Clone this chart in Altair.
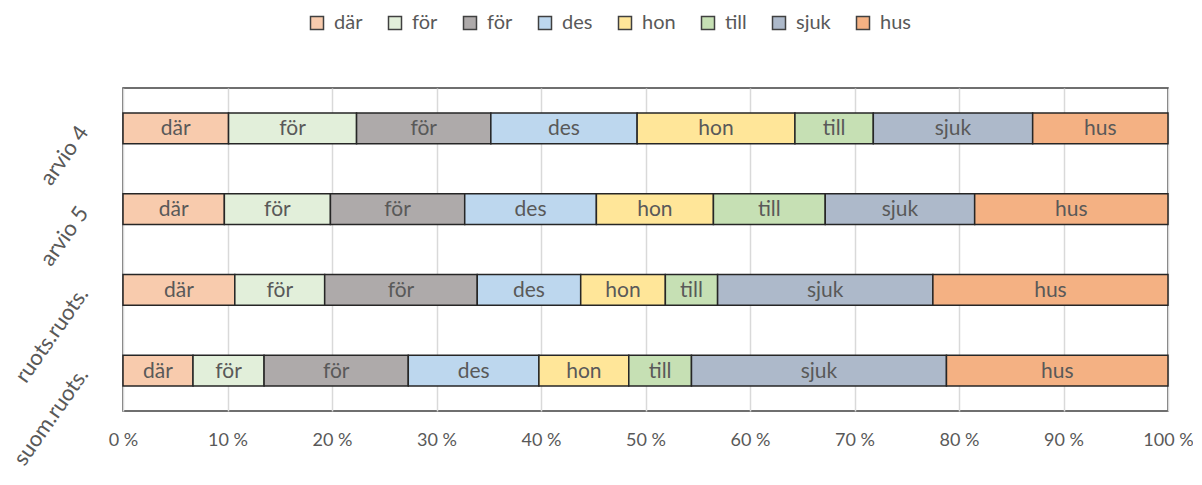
import altair as alt
import pandas as pd
import json

groups = ["arvio 4", "arvio 5", "ruots.ruots.", "suom.ruots."]
series_keys = ["s1", "s2", "s3", "s4", "s5", "s6", "s7", "s8"]
series_names = ["där", "för", "för", "des", "hon", "till", "sjuk", "hus"]
colors = ["#F8CBAD", "#E2EFDA", "#AEAAAA", "#BDD7EE", "#FFE699", "#C6E0B4", "#ADB9CA", "#F4B183"]

vals_arvio4 = [10.1, 12.25, 12.85, 14.0, 15.1, 7.5, 15.25, 12.95]
vals_arvio5 = [9.7, 10.15, 12.85, 12.6, 11.2, 10.7, 14.3, 18.5]
vals_ruots = [10.7, 8.6, 14.6, 9.9, 8.1, 5.0, 20.6, 22.5]
vals_suom = [6.7, 6.8, 13.8, 12.5, 8.6, 6.0, 24.4, 21.2]

all_vals = [vals_arvio4, vals_arvio5, vals_ruots, vals_suom]
rows = []
for g, vals in zip(groups, all_vals):
    for i, (k, n, v) in enumerate(zip(series_keys, series_names, vals)):
        rows.append({"group": g, "key": k, "name": n, "value": v, "order": i})
df = pd.DataFrame(rows)

FONT = "Lato"
TXT = "#595959"

label_expr = "%s[indexof(%s, datum.label)]" % (json.dumps(series_names), json.dumps(series_keys))

base = alt.Chart(df).transform_stack(
    stack="value", groupby=["group"], as_=["x0", "x1"],
    sort=[alt.SortField("order", order="ascending")], offset="normalize"
).transform_calculate(mid="(datum.x0 + datum.x1) / 2")

y_enc = alt.Y("group:N", sort=groups,
              scale=alt.Scale(paddingInner=0.62, paddingOuter=0.31),
              axis=alt.Axis(title=None, labelAngle=-55, labelAlign="right",
                            labelBaseline="middle", ticks=False, domain=False,
                            labelPadding=40, labelFontSize=22, labelColor=TXT,
                            labelFont=FONT, grid=False))

bars = base.mark_bar(stroke="#262626", strokeWidth=1.5).encode(
    x=alt.X("x0:Q", scale=alt.Scale(domain=[0, 1], nice=False),
            axis=alt.Axis(title=None, values=[i / 10 for i in range(11)],
                          labelExpr="round(datum.value*100) + ' %'",
                          labelFontSize=18, labelColor=TXT, labelFont=FONT,
                          labelPadding=20, labelFlush=False, ticks=False, domain=False,
                          grid=True, gridColor="#D9D9D9", gridWidth=1.5)),
    x2="x1:Q",
    y=y_enc,
    color=alt.Color("key:N", scale=alt.Scale(domain=series_keys, range=colors),
                    legend=alt.Legend(title=None, orient="none", direction="horizontal",
                                      legendX=184, legendY=-75, columns=8,
                                      labelExpr=label_expr, labelFontSize=20,
                                      labelColor=TXT, labelFont=FONT,
                                      symbolType="square", symbolSize=169,
                                      symbolStrokeColor="#404040", symbolStrokeWidth=1.5,
                                      labelOffset=7, columnPadding=22, padding=0)),
)

labels = base.mark_text(fontSize=21, color=TXT, font=FONT, baseline="middle", dy=1).encode(
    x=alt.X("mid:Q"),
    y=alt.Y("group:N", sort=groups),
    text="name:N",
)

chart = alt.layer(bars, labels).properties(
    width=1045, height=323,
    autosize=alt.AutoSizeParams(type="none"),
    padding={"left": 115, "top": 80, "right": 25, "bottom": 60},
).configure_view(stroke="#404040", strokeWidth=1.5)

chart.save("out.html", embed_options={"renderer": "svg", "actions": False})
